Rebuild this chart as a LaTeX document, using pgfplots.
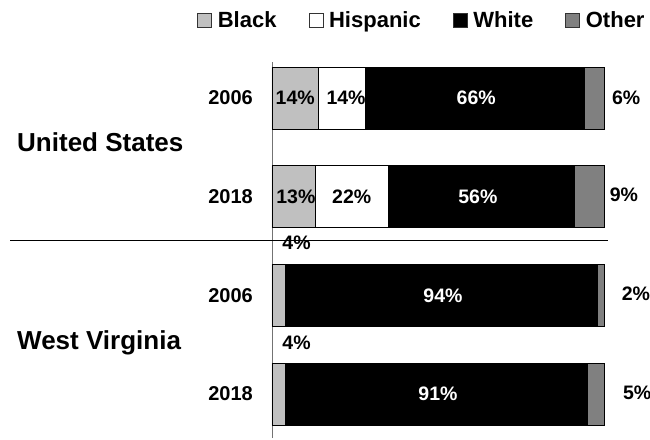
\documentclass[border=0pt]{standalone}
\usepackage{fontspec}
\setmainfont{Liberation Sans}
\usepackage{pgfplots}
\pgfplotsset{compat=1.18}
\definecolor{cBlack}{HTML}{C0C0C0}
\definecolor{cOther}{HTML}{808080}
\begin{document}
\begin{tikzpicture}
\pgfplotsset{common/.style={scale only axis, width=332pt, height=376pt,
  xmin=0, xmax=100, ymin=-0.446, ymax=3.365, clip=false}}
\begin{axis}[common, xbar stacked, bar width=0.628,
  hide x axis, axis y line*=left,
  y axis line style={draw=black!55, line width=0.8pt},
  ytick={0,1,2,3}, yticklabels={2018,2006,2018,2006},
  major tick length=0pt,
  yticklabel style={font=\fontsize{20}{20}\selectfont\bfseries, inner sep=0pt, xshift=-19pt},
  legend columns=4,
  legend style={draw=none, fill=none, inner sep=0pt,
    at={(rel axis cs:-0.2259,1.1117)}, anchor=west,
    font=\fontsize{22}{22}\selectfont\bfseries,
    nodes={inner sep=0pt},
    /tikz/every even column/.append style={column sep=32pt}},
  legend image code/.code={\draw[#1, draw=black!80, line width=0.6pt] (0pt,-7pt) rectangle (14pt,7pt);
    \path (20pt,0pt);},
]
\addplot[fill=cBlack, draw=black, line width=0.6pt] coordinates {(14,3) (13,2) (4,1) (4,0)};
\addplot[fill=white, draw=black, line width=0.6pt] coordinates {(14,3) (22,2) (0,1) (0,0)};
\addplot[fill=black, draw=black, line width=0.6pt] coordinates {(66,3) (56,2) (94,1) (91,0)};
\addplot[fill=cOther, draw=black, line width=0.6pt] coordinates {(6,3) (9,2) (2,1) (5,0)};
\legend{Black, Hispanic, White, Other}
\coordinate (BL) at (rel axis cs:0,0);
\end{axis}
\begin{axis}[common, hide axis]
\addplot[only marks, mark=none, nodes near coords, point meta=explicit symbolic,
  every node near coord/.append style={anchor=center, text=black, font=\fontsize{19.5}{19.5}\selectfont\bfseries}]
  coordinates {(7,3) [14\%] (22.3,3) [14\%] (106.7,3) [6\%]
               (7.2,2) [13\%] (24,2) [22\%] (106,2.02) [9\%]
               (7.4,1.53) [4\%] (109.6,1.02) [2\%]
               (7.4,0.518) [4\%] (110,0.01) [5\%]};
\addplot[only marks, mark=none, nodes near coords, point meta=explicit symbolic,
  every node near coord/.append style={anchor=center, text=white, font=\fontsize{19.5}{19.5}\selectfont\bfseries}]
  coordinates {(61.5,3) [66\%] (62,2) [56\%] (51.5,1) [94\%] (50,0) [91\%]};
\draw[black, line width=0.7pt] (axis cs:-78.9,1.561) -- (axis cs:101.2,1.561);
\node[anchor=west, inner sep=0pt, font=\fontsize{26}{26}\selectfont\bfseries] at (axis cs:-76.8,2.554) {United States};
\node[anchor=west, inner sep=0pt, font=\fontsize{26}{26}\selectfont\bfseries] at (axis cs:-76.8,0.522) {West Virginia};
\end{axis}
\pgfresetboundingbox
\path[use as bounding box] (BL) ++(-272pt,-1pt) rectangle ++(650pt,439pt);
\end{tikzpicture}
\end{document}
